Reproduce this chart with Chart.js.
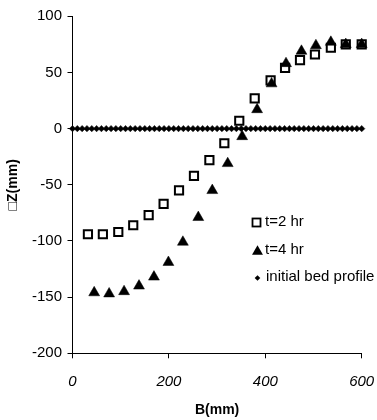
<!DOCTYPE html>
<html>
<head>
<meta charset="utf-8">
<script src="https://cdn.jsdelivr.net/npm/chart.js@4/dist/chart.umd.min.js"></script>
<style>
  html, body { margin: 0; padding: 0; background: #fff; }
  #c { display: block; }
</style>
</head>
<body>
<canvas id="c" width="377" height="420"></canvas>
<script>
// ---- data ----
const seriesNames = ["t=2 hr", "t=4 hr", "initial bed profile"];

const bT2 = [32, 63, 95, 126, 158, 189, 221, 252, 284, 315, 346, 378, 411, 441, 472, 503, 536, 567, 600];
const zT2 = [-94, -94, -92, -86, -77, -67, -55, -42, -28, -13, 7, 27, 43, 54, 61, 66, 72, 75, 75];

const bT4 = [45, 76, 107, 138, 169, 199, 229, 261, 290, 322, 352, 383, 413, 443, 475, 505, 536, 567, 600];
const zT4 = [-146, -147, -145, -140, -132, -119, -101, -79, -55, -31, -7, 17, 40, 58, 69, 74, 77, 75, 75];

const bInit = [0, 10, 20, 30, 40, 50, 60, 70, 80, 90, 100, 110, 120, 130, 140, 150, 160, 170, 180, 190,
               200, 210, 220, 230, 240, 250, 260, 270, 280, 290, 300, 310, 320, 330, 340, 350, 360, 370, 380, 390,
               400, 410, 420, 430, 440, 450, 460, 470, 480, 490, 500, 510, 520, 530, 540, 550, 560, 570, 580, 590, 600];
const zInit = [0, 0, 0, 0, 0, 0, 0, 0, 0, 0, 0, 0, 0, 0, 0, 0, 0, 0, 0, 0,
               0, 0, 0, 0, 0, 0, 0, 0, 0, 0, 0, 0, 0, 0, 0, 0, 0, 0, 0, 0,
               0, 0, 0, 0, 0, 0, 0, 0, 0, 0, 0, 0, 0, 0, 0, 0, 0, 0, 0, 0, 0];

const xTicks = [0, 200, 400, 600];
const yTicks = [-200, -150, -100, -50, 0, 50, 100];
const xTitle = "B(mm)";
const yTitle = "\u25A1Z(mm)";

const FONT = "'Liberation Sans', Arial, Helvetica, sans-serif";

function pts(xs, ys) { return xs.map((x, i) => ({ x: x, y: ys[i] })); }

// legend drawn inside the plot area
const insideLegend = {
  id: 'insideLegend',
  afterDraw(chart) {
    const ctx = chart.ctx;
    ctx.save();
    ctx.fillStyle = '#000';
    ctx.strokeStyle = '#000';
    // square
    ctx.lineWidth = 1.8;
    ctx.strokeRect(252.5, 218.5, 8, 8);
    // triangle
    const tx = 257.5, ty = 251.5, r = 6.3;
    ctx.beginPath();
    for (let k = 0; k < 3; k++) {
      const a = k * 2 * Math.PI / 3;
      const px = tx + Math.sin(a) * r, py = ty - Math.cos(a) * r;
      if (k === 0) ctx.moveTo(px, py); else ctx.lineTo(px, py);
    }
    ctx.closePath();
    ctx.fill();
    // diamond
    const dx = 257.5, dy = 278, d = 2.8;
    ctx.beginPath();
    ctx.moveTo(dx, dy - d); ctx.lineTo(dx + d, dy); ctx.lineTo(dx, dy + d); ctx.lineTo(dx - d, dy);
    ctx.closePath();
    ctx.fill();
    // texts
    ctx.font = "15px " + FONT;
    ctx.textBaseline = 'middle';
    ctx.textAlign = 'left';
    ctx.fillText(seriesNames[0], 265, 222);
    ctx.fillText(seriesNames[1], 265, 249.5);
    ctx.fillText(seriesNames[2], 266, 277);
    ctx.restore();
  }
};

new Chart(document.getElementById('c'), {
  type: 'scatter',
  data: {
    datasets: [
      {
        label: seriesNames[2],
        data: pts(bInit, zInit),
        pointStyle: 'rectRot',
        pointRadius: 3.2,
        backgroundColor: '#000',
        borderColor: '#000',
        borderWidth: 0.5,
        clip: false
      },
      {
        label: seriesNames[1],
        data: pts(bT4, zT4),
        pointStyle: 'triangle',
        pointRadius: 6.3,
        backgroundColor: '#000',
        borderColor: '#000',
        borderWidth: 0.5,
        clip: false
      },
      {
        label: seriesNames[0],
        data: pts(bT2, zT2),
        pointStyle: 'rect',
        pointRadius: 5.8,
        backgroundColor: 'rgba(0,0,0,0)',
        borderColor: '#000',
        borderWidth: 2,
        clip: false
      }
    ]
  },
  options: {
    responsive: false,
    animation: false,
    devicePixelRatio: 1,
    layout: { padding: { left: 0, right: 15.3, top: 16.3, bottom: 0 } },
    plugins: {
      legend: { display: false },
      tooltip: { enabled: false }
    },
    scales: {
      x: {
        type: 'linear',
        min: 0, max: 600,
        afterBuildTicks(scale) { scale.ticks = xTicks.map(v => ({ value: v })); },
        afterFit(scale) { scale.height = 66.7; scale.paddingLeft = 0; scale.paddingRight = 0; },
        grid: { display: true, drawOnChartArea: false, drawTicks: true, tickLength: 5, color: '#000', lineWidth: 1 },
        border: { display: true, color: '#000', width: 1 },
        ticks: { color: '#000', padding: 15, font: { family: FONT, size: 15, style: 'italic' } },
        title: { display: true, text: xTitle, color: '#000', padding: { top: 0, bottom: 1 }, font: { family: FONT, size: 14, weight: 'bold' } }
      },
      y: {
        type: 'linear',
        min: -200, max: 100,
        afterBuildTicks(scale) { scale.ticks = yTicks.map(v => ({ value: v })); },
        afterFit(scale) { scale.width = 72.5; scale.paddingTop = 0; scale.paddingBottom = 0; },
        grid: { display: true, drawOnChartArea: false, drawTicks: true, tickLength: 5, color: '#000', lineWidth: 1 },
        border: { display: true, color: '#000', width: 1 },
        ticks: { color: '#000', padding: 5.5, font: { family: FONT, size: 15 } },
        title: { display: true, text: yTitle, color: '#000', padding: { top: 4.6, bottom: 0 }, font: { family: FONT, size: 14, weight: 'bold' } }
      }
    }
  },
  plugins: [insideLegend]
});
</script>
</body>
</html>
